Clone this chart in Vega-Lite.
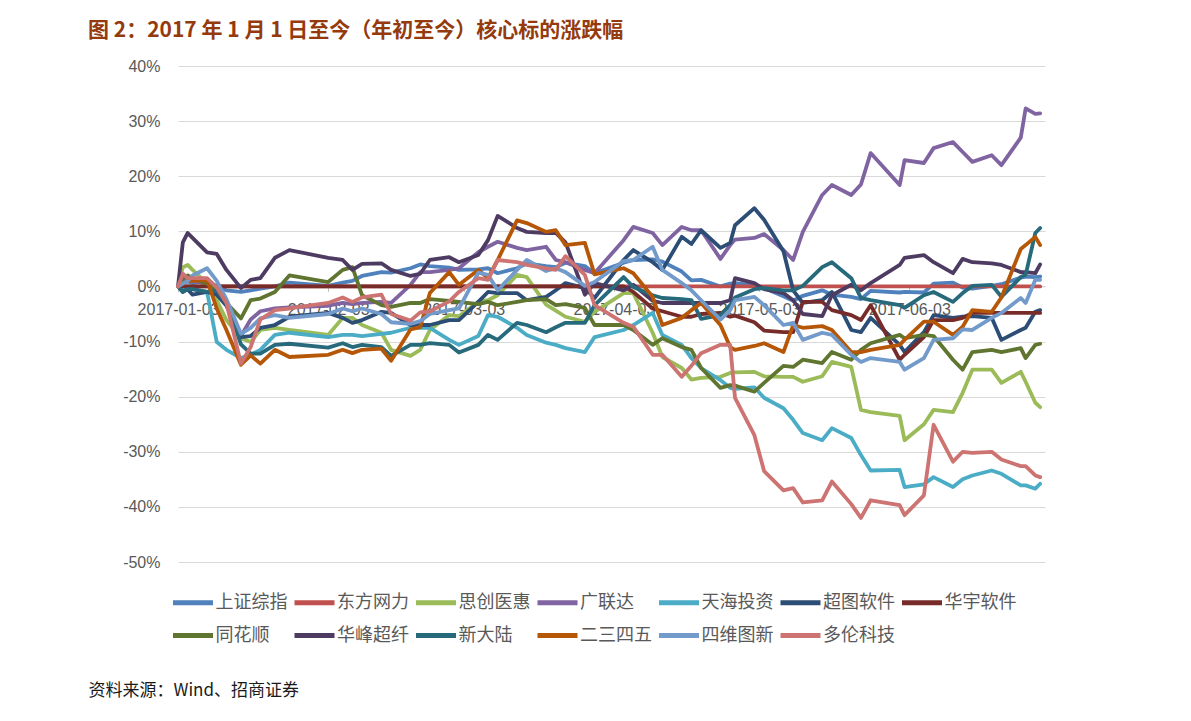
{
"$schema":"https://vega.github.io/schema/vega-lite/v6.json",
"width":867,"height":496,
"autosize":{"type":"none"},
"padding":{"left":178,"top":66,"right":146,"bottom":159},
"background":"white",
"title":{"text":"图 2：2017 年 1 月 1 日至今（年初至今）核心标的涨跌幅","anchor":"start","frame":"group","dx":-90,"offset":-4,"baseline":"bottom","font":"Noto Sans CJK SC","fontSize":21,"fontWeight":"bold","color":"#943A0C"},
"data":{"values":[
{"d":"2017/01/03","上证综指":0,"东方网力":0,"思创医惠":0,"广联达":0,"天海投资":0,"超图软件":0,"华宇软件":0,"同花顺":0,"华峰超纤":0,"新大陆":0,"二三四五":0,"四维图新":0,"多伦科技":0},
{"d":"2017/01/04","上证综指":0.7,"东方网力":0,"思创医惠":3.5,"广联达":1.0,"天海投资":-0.5,"超图软件":-1.0,"华宇软件":0,"同花顺":1.5,"华峰超纤":8.0,"新大陆":-1.0,"二三四五":0.5,"四维图新":0.5,"多伦科技":2.3},
{"d":"2017/01/05","上证综指":0.9,"东方网力":0,"思创医惠":3.9,"广联达":1.5,"天海投资":0,"超图软件":-0.5,"华宇软件":0,"同花顺":2.0,"华峰超纤":9.7,"新大陆":-0.5,"二三四五":1.0,"四维图新":1.0,"多伦科技":1.5},
{"d":"2017/01/06","上证综指":0.6,"东方网力":0,"思创医惠":3.0,"广联达":1.0,"天海投资":-0.5,"超图软件":-1.5,"华宇软件":0,"同花顺":1.5,"华峰超纤":8.8,"新大陆":-0.5,"二三四五":1.0,"四维图新":2.0,"多伦科技":1.5},
{"d":"2017/01/09","上证综指":1.1,"东方网力":0,"思创医惠":0.5,"广联达":0.5,"天海投资":-1.0,"超图软件":-1.0,"华宇软件":0,"同花顺":0.5,"华峰超纤":6.2,"新大陆":-1.0,"二三四五":1.2,"四维图新":3.3,"多伦科技":1.5},
{"d":"2017/01/11","上证综指":0.0,"东方网力":0,"思创医惠":-2.5,"广联达":-1.0,"天海投资":-10.1,"超图软件":-1.5,"华宇软件":0,"同花顺":-0.5,"华峰超纤":5.9,"新大陆":-0.7,"二三四五":-4.0,"四维图新":1.0,"多伦科技":-0.2},
{"d":"2017/01/13","上证综指":-0.7,"东方网力":0,"思创医惠":-6.1,"广联达":-3.0,"天海投资":-11.5,"超图软件":-3.5,"华宇软件":0,"同花顺":-3.0,"华峰超纤":3.0,"新大陆":-3.0,"二三四五":-7.9,"四维图新":-2.3,"多伦科技":-3.0},
{"d":"2017/01/16","上证综指":-1.0,"东方网力":0,"思创医惠":-9.4,"广联达":-9.0,"天海投资":-13.0,"超图软件":-9.2,"华宇软件":0,"同花顺":-5.8,"华峰超纤":-0.3,"新大陆":-10.5,"二三四五":-14.2,"四维图新":-8.6,"多伦科技":-14.0},
{"d":"2017/01/18","上证综指":-0.7,"东方网力":0,"思创医惠":-10.1,"广联达":-6.0,"天海投资":-12.4,"超图软件":-9.0,"华宇软件":0,"同花顺":-2.5,"华峰超纤":1.2,"新大陆":-12.2,"二三四五":-12.5,"四维图新":-7.5,"多伦科技":-11.0},
{"d":"2017/01/20","上证综指":-0.4,"东方网力":0,"思创医惠":-7.9,"广联达":-4.5,"天海投资":-11.5,"超图软件":-7.5,"华宇软件":0,"同花顺":-2.2,"华峰超纤":1.5,"新大陆":-12.2,"二三四五":-14.0,"四维图新":-5.8,"多伦科技":-6.0},
{"d":"2017/01/23","上证综指":0.0,"东方网力":0,"思创医惠":-7.5,"广联达":-4.0,"天海投资":-8.8,"超图软件":-7.0,"华宇软件":0,"同花顺":-1.0,"华峰超纤":5.2,"新大陆":-10.6,"二三四五":-11.5,"四维图新":-5.2,"多伦科技":-4.3},
{"d":"2017/01/26","上证综指":0.7,"东方网力":0,"思创医惠":-7.9,"广联达":-3.8,"天海投资":-8.4,"超图软件":-5.5,"华宇软件":0,"同花顺":2.0,"华峰超纤":6.6,"新大陆":-10.4,"二三四五":-12.8,"四维图新":-5.7,"多伦科技":-4.0},
{"d":"2017/02/03","上证综指":0.1,"东方网力":0,"思创医惠":-8.8,"广联达":-3.5,"天海投资":-9.2,"超图软件":-4.8,"华宇软件":0,"同花顺":0.8,"华峰超纤":5.2,"新大陆":-11.1,"二三四五":-12.4,"四维图新":-5.0,"多伦科技":-3.0},
{"d":"2017/02/06","上证综指":0.7,"东方网力":0,"思创医惠":-5.7,"广联达":-3.0,"天海投资":-8.8,"超图软件":-5.7,"华宇软件":0,"同花顺":3.0,"华峰超纤":4.8,"新大陆":-10.3,"二三四五":-11.5,"四维图新":-4.0,"多伦科技":-2.0},
{"d":"2017/02/08","上证综指":1.0,"东方网力":0,"思创医惠":-5.7,"广联达":-3.2,"天海投资":-8.8,"超图软件":-6.6,"华宇软件":0,"同花顺":3.5,"华峰超纤":3.0,"新大陆":-11.0,"二三四五":-12.1,"四维图新":-4.5,"多伦科技":-2.8},
{"d":"2017/02/10","上证综指":1.9,"东方网力":0,"思创医惠":-7.0,"广联达":-3.0,"天海投资":-9.0,"超图软件":-6.1,"华宇软件":0,"同花顺":-1.6,"华峰超纤":4.1,"新大陆":-10.6,"二三四五":-11.5,"四维图新":-4.0,"多伦科技":-2.0},
{"d":"2017/02/14","上证综指":2.6,"东方网力":0,"思创医惠":-8.4,"广联达":-2.8,"天海投资":-8.6,"超图软件":-4.6,"华宇软件":0,"同花顺":-3.4,"华峰超纤":4.2,"新大陆":-11.0,"二三四五":-11.3,"四维图新":-5.0,"多伦科技":-1.5},
{"d":"2017/02/16","上证综指":2.5,"东方网力":0,"思创医惠":-11.5,"广联达":-3.0,"天海投资":-8.4,"超图软件":-4.8,"华宇软件":0,"同花顺":-3.7,"华峰超纤":3.0,"新大陆":-12.6,"二三四五":-13.5,"四维图新":-6.5,"多伦科技":-5.0},
{"d":"2017/02/20","上证综指":3.3,"东方网力":0,"思创医惠":-12.6,"广联达":0.3,"天海投资":-7.5,"超图软件":-7.0,"华宇软件":0,"同花顺":-3.0,"华峰超纤":1.9,"新大陆":-10.6,"二三四五":-7.8,"四维图新":-6.8,"多伦科技":-6.2},
{"d":"2017/02/22","上证综指":4.0,"东方网力":0,"思创医惠":-11.5,"广联达":2.6,"天海投资":-7.5,"超图软件":-7.0,"华宇软件":0,"同花顺":-3.0,"华峰超纤":2.3,"新大陆":-10.6,"二三四五":-7.4,"四维图新":-6.3,"多伦科技":-4.7},
{"d":"2017/02/24","上证综指":3.7,"东方网力":0,"思创医惠":-7.9,"广联达":2.6,"天海投资":-7.5,"超图软件":-7.0,"华宇软件":0,"同花顺":-2.3,"华峰超纤":4.8,"新大陆":-10.3,"二三四五":-1.2,"四维图新":-5.0,"多伦科技":-4.5},
{"d":"2017/02/28","上证综指":3.4,"东方网力":0,"思创医惠":-5.2,"广联达":3.0,"天海投资":-9.7,"超图软件":-6.1,"华宇软件":0,"同花顺":-2.6,"华峰超纤":5.3,"新大陆":-10.6,"二三四五":2.6,"四维图新":-4.3,"多伦科技":-2.7},
{"d":"2017/03/02","上证综指":3.0,"东方网力":0,"思创医惠":-5.4,"广联达":3.3,"天海投资":-10.6,"超图软件":-6.1,"华宇软件":0,"同花顺":-2.8,"华峰超纤":4.4,"新大陆":-12.0,"二三四五":0.3,"四维图新":-4.0,"多伦科技":-1.0},
{"d":"2017/03/06","上证综指":3.1,"东方网力":0,"思创医惠":-2.8,"广联达":6.2,"天海投资":-9.0,"超图软件":-2.8,"华宇软件":0,"同花顺":-3.2,"华峰超纤":5.7,"新大陆":-10.6,"二三四五":3.0,"四维图新":2.5,"多伦科技":1.5},
{"d":"2017/03/08","上证综指":3.3,"东方网力":0,"思创医惠":-2.5,"广联达":7.2,"天海投资":-5.2,"超图软件":-1.0,"华宇软件":0,"同花顺":-2.8,"华峰超纤":8.4,"新大陆":-8.8,"二三四五":1.5,"四维图新":2.1,"多伦科技":1.2},
{"d":"2017/03/10","上证综指":2.4,"东方网力":0,"思创医惠":-1.6,"广联达":8.1,"天海投资":-5.5,"超图软件":-1.2,"华宇软件":0,"同花顺":-3.4,"华峰超纤":12.8,"新大陆":-9.7,"二三四五":4.8,"四维图新":-0.7,"多伦科技":4.8},
{"d":"2017/03/14","上证综指":3.3,"东方网力":0,"思创医惠":2.1,"广联达":7.0,"天海投资":-7.5,"超图软件":-1.2,"华宇软件":0,"同花顺":-2.8,"华峰超纤":10.6,"新大陆":-6.6,"二三四五":12.0,"四维图新":3.0,"多伦科技":4.4},
{"d":"2017/03/16","上证综指":4.2,"东方网力":0,"思创医惠":1.7,"广联达":6.6,"天海投资":-8.8,"超图软件":-2.5,"华宇软件":0,"同花顺":-2.5,"华峰超纤":9.9,"新大陆":-7.0,"二三四五":11.5,"四维图新":4.8,"多伦科技":3.9},
{"d":"2017/03/20","上证综指":3.7,"东方网力":0,"思创医惠":-3.3,"广联达":7.2,"天海投资":-10.2,"超图软件":-1.9,"华宇软件":0,"同花顺":-2.3,"华峰超纤":9.7,"新大陆":-8.3,"二三四五":9.9,"四维图新":2.8,"多伦科技":3.3},
{"d":"2017/03/22","上证综指":3.5,"东方网力":0,"思创医惠":-4.4,"广联达":4.8,"天海投资":-10.6,"超图软件":-0.7,"华宇软件":0,"同花顺":-3.4,"华峰超纤":9.7,"新大陆":-7.4,"二三四五":10.2,"四维图新":3.3,"多伦科技":3.0},
{"d":"2017/03/24","上证综指":4.3,"东方网力":0,"思创医惠":-5.5,"广联达":4.4,"天海投资":-11.2,"超图软件":0.6,"华宇软件":0,"同花顺":-3.2,"华峰超纤":8.0,"新大陆":-6.6,"二三四五":7.5,"四维图新":2.6,"多伦科技":5.5},
{"d":"2017/03/28","上证综指":3.7,"东方网力":0,"思创医惠":-6.4,"广联达":3.0,"天海投资":-11.9,"超图软件":-0.3,"华宇软件":0,"同花顺":-3.9,"华峰超纤":-1.5,"新大陆":-6.6,"二三四五":7.9,"四维图新":0.1,"多伦科技":2.1},
{"d":"2017/03/30","上证综指":2.4,"东方网力":0,"思创医惠":-4.6,"广联达":2.4,"天海投资":-9.2,"超图软件":-2.1,"华宇软件":0,"同花顺":-7.0,"华峰超纤":0.6,"新大陆":-3.4,"二三四五":2.2,"四维图新":0.8,"多伦科技":-3.4},
{"d":"2017/04/05","上证综指":4.3,"东方网力":0,"思创医惠":-1.2,"广联达":8.4,"天海投资":-7.9,"超图软件":4.8,"华宇软件":0,"同花顺":-7.0,"华峰超纤":-0.7,"新大陆":1.7,"二三四五":3.3,"四维图新":4.6,"多伦科技":-6.6},
{"d":"2017/04/07","上证综指":4.8,"东方网力":0,"思创医惠":-1.2,"广联达":10.8,"天海投资":-7.0,"超图软件":6.6,"华宇软件":-1.0,"同花顺":-7.9,"华峰超纤":0.3,"新大陆":-0.1,"二三四五":2.4,"四维图新":4.8,"多伦科技":-7.3},
{"d":"2017/04/11","上证综指":4.9,"东方网力":0,"思创医惠":-8.4,"广联达":9.7,"天海投资":-4.8,"超图软件":4.4,"华宇软件":-4.0,"同花顺":-10.6,"华峰超纤":-2.6,"新大陆":-1.6,"二三四五":-1.9,"四维图新":7.2,"多伦科技":-12.4},
{"d":"2017/04/13","上证综指":4.5,"东方网力":0,"思创医惠":-12.8,"广联达":7.5,"天海投资":-8.8,"超图软件":3.0,"华宇软件":-4.5,"同花顺":-9.4,"华峰超纤":-3.0,"新大陆":-2.1,"二三四五":-7.0,"四维图新":3.0,"多伦科技":-12.4},
{"d":"2017/04/17","上证综指":2.7,"东方网力":0,"思创医惠":-14.8,"广联达":10.8,"天海投资":-10.6,"超图软件":9.0,"华宇软件":-5.5,"同花顺":-11.0,"华峰超纤":-3.0,"新大陆":-2.3,"二三四五":-5.7,"四维图新":0.6,"多伦科技":-16.4},
{"d":"2017/04/19","上证综指":1.1,"东方网力":0,"思创医惠":-16.9,"广联达":10.2,"天海投资":-13.0,"超图软件":7.7,"华宇软件":-5.5,"同花顺":-11.5,"华峰超纤":-3.0,"新大陆":-2.5,"二三四五":-4.3,"四维图新":-0.7,"多伦科技":-14.4},
{"d":"2017/04/21","上证综指":1.2,"东方网力":0,"思创医惠":-16.6,"广联达":10.2,"天海投资":-14.8,"超图软件":10.2,"华宇软件":-5.0,"同花顺":-14.8,"华峰超纤":-3.0,"新大陆":-5.9,"二三四五":-3.0,"四维图新":-2.5,"多伦科技":-12.1},
{"d":"2017/04/25","上证综指":0.0,"东方网力":0,"思创医惠":-16.4,"广联达":5.0,"天海投资":-17.0,"超图软件":7.0,"华宇软件":-4.8,"同花顺":-18.4,"华峰超纤":-3.0,"新大陆":-5.2,"二三四五":-7.0,"四维图新":-6.0,"多伦科技":-10.6},
{"d":"2017/04/27","上证综指":0.5,"东方网力":0,"思创医惠":-15.7,"广联达":7.5,"天海投资":-18.4,"超图软件":7.9,"华宇软件":-5.5,"同花顺":-17.9,"华峰超纤":-2.5,"新大陆":-3.4,"二三四五":-11.0,"四维图新":-4.3,"多伦科技":-10.6},
{"d":"2017/04/28","上证综指":0.6,"东方网力":0,"思创医惠":-15.6,"广联达":8.5,"天海投资":-18.6,"超图软件":11.1,"华宇软件":-5.3,"同花顺":-18.0,"华峰超纤":1.5,"新大陆":-2.0,"二三四五":-11.5,"四维图新":-2.5,"多伦科技":-20.2},
{"d":"2017/05/02","上证综指":0.2,"东方网力":0,"思创医惠":-15.5,"广联达":8.8,"天海投资":-18.3,"超图软件":14.2,"华宇软件":-6.5,"同花顺":-19.1,"华峰超纤":0.6,"新大陆":-0.5,"二三四五":-10.8,"四维图新":-1.9,"多伦科技":-27.0},
{"d":"2017/05/04","上证综指":-0.3,"东方网力":0,"思创医惠":-16.3,"广联达":9.5,"天海投资":-20.2,"超图软件":12.1,"华宇软件":-8.0,"同花顺":-17.5,"华峰超纤":-0.5,"新大陆":-0.3,"二三四五":-10.3,"四维图新":-3.4,"多伦科技":-33.5},
{"d":"2017/05/08","上证综指":-1.8,"东方网力":0,"思创医惠":-16.4,"广联达":6.6,"天海投资":-22.1,"超图软件":6.4,"华宇软件":-8.3,"同花顺":-14.4,"华峰超纤":-1.2,"新大陆":-0.7,"二三四五":-11.9,"四维图新":-7.0,"多伦科技":-37.0},
{"d":"2017/05/10","上证综指":-2.6,"东方网力":0,"思创医惠":-16.4,"广联达":4.8,"天海投资":-24.2,"超图软件":-0.7,"华宇软件":-8.3,"同花顺":-14.6,"华峰超纤":-2.5,"新大陆":-0.7,"二三四五":-7.0,"四维图新":-6.6,"多伦科技":-36.6},
{"d":"2017/05/12","上证综指":-1.7,"东方网力":0,"思创医惠":-17.3,"广联达":9.9,"天海投资":-26.6,"超图软件":-3.0,"华宇软件":-2.8,"同花顺":-13.3,"华峰超纤":-5.0,"新大陆":0.1,"二三四五":-7.5,"四维图新":-9.7,"多伦科技":-39.2},
{"d":"2017/05/16","上证综指":-0.7,"东方网力":0,"思创医惠":-16.3,"广联达":16.6,"天海投资":-27.9,"超图软件":-2.5,"华宇软件":-2.8,"同花顺":-13.9,"华峰超纤":-5.4,"新大陆":3.5,"二三四五":-7.2,"四维图新":-8.4,"多伦科技":-38.8},
{"d":"2017/05/18","上证综指":-1.5,"东方网力":0,"思创医惠":-13.7,"广联达":18.4,"天海投资":-25.7,"超图软件":-1.0,"华宇软件":-4.3,"同花顺":-11.9,"华峰超纤":-1.6,"新大陆":4.4,"二三四五":-7.9,"四维图新":-8.8,"多伦科技":-35.4},
{"d":"2017/05/22","上证综指":-1.9,"东方网力":0,"思创医惠":-14.6,"广联达":16.6,"天海投资":-27.5,"超图软件":-7.9,"华宇软件":-5.2,"同花顺":-13.3,"华峰超纤":0.3,"新大陆":1.5,"二三四五":-11.9,"四维图新":-12.4,"多伦科技":-39.5},
{"d":"2017/05/24","上证综指":-2.3,"东方网力":0,"思创医惠":-22.4,"广联达":18.5,"天海投资":-30.6,"超图软件":-8.3,"华宇软件":-6.1,"同花顺":-11.5,"华峰超纤":-0.7,"新大陆":-2.1,"二三四五":-11.9,"四维图新":-13.7,"多伦科技":-42.0},
{"d":"2017/05/26","上证综指":-0.8,"东方网力":0,"思创医惠":-22.8,"广联达":24.2,"天海投资":-33.4,"超图软件":-5.7,"华宇软件":-3.4,"同花顺":-10.3,"华峰超纤":0.6,"新大陆":-2.5,"二三四五":-11.5,"四维图新":-13.0,"多伦科技":-38.8},
{"d":"2017/06/01","上证综指":-1.1,"东方网力":0,"思创医惠":-23.5,"广联达":18.4,"天海投资":-33.3,"超图软件":-10.6,"华宇软件":-13.3,"同花顺":-8.8,"华峰超纤":3.9,"新大陆":-3.4,"二三四五":-10.6,"四维图新":-13.7,"多伦科技":-39.7},
{"d":"2017/06/02","上证综指":-1.0,"东方网力":0,"思创医惠":-27.9,"广联达":22.9,"天海投资":-36.4,"超图软件":-11.9,"华宇软件":-12.4,"同花顺":-9.4,"华峰超纤":5.2,"新大陆":-3.9,"二三四五":-9.7,"四维图新":-15.1,"多伦科技":-41.5},
{"d":"2017/06/06","上证综指":-1.1,"东方网力":0,"思创医惠":-25.0,"广联达":22.4,"天海投资":-35.9,"超图软件":-8.3,"华宇软件":-9.2,"同花顺":-8.8,"华峰超纤":5.7,"新大陆":-1.6,"二三四五":-6.4,"四维图新":-13.0,"多伦科技":-37.9},
{"d":"2017/06/08","上证综指":0.5,"东方网力":0,"思创医惠":-22.4,"广联达":25.1,"天海投资":-34.6,"超图软件":-5.2,"华宇软件":-6.1,"同花顺":-9.0,"华峰超纤":4.4,"新大陆":-1.0,"二三四五":-6.4,"四维图新":-9.7,"多伦科技":-25.1},
{"d":"2017/06/12","上证综指":0.7,"东方网力":0,"思创医惠":-22.8,"广联达":26.2,"天海投资":-36.4,"超图软件":-5.7,"华宇软件":-6.1,"同花顺":-13.3,"华峰超纤":2.4,"新大陆":-2.8,"二三四五":-8.8,"四维图新":-9.4,"多伦科技":-31.8},
{"d":"2017/06/14","上证综指":-0.2,"东方网力":0,"思创医惠":-19.3,"广联达":24.4,"天海投资":-35.0,"超图软件":-5.5,"华宇软件":-5.7,"同花顺":-15.1,"华峰超纤":5.0,"新大陆":-1.2,"二三四五":-7.3,"四维图新":-7.8,"多伦科技":-30.0},
{"d":"2017/06/16","上证综指":-0.4,"东方网力":0,"思创医惠":-15.1,"广联达":22.6,"天海投资":-34.3,"超图软件":-5.4,"华宇软件":-4.8,"同花顺":-11.9,"华峰超纤":4.4,"新大陆":0.1,"二三四五":-4.3,"四维图新":-7.9,"多伦科技":-30.2},
{"d":"2017/06/20","上证综指":0.1,"东方网力":0,"思创医惠":-15.1,"广联达":23.8,"天海投资":-33.4,"超图软件":-5.7,"华宇软件":-4.8,"同花顺":-11.5,"华峰超纤":4.2,"新大陆":0.3,"二三四五":-4.6,"四维图新":-5.7,"多伦科技":-30.0},
{"d":"2017/06/22","上证综指":0.4,"东方网力":0,"思创医惠":-17.5,"广联达":22.0,"天海投资":-34.0,"超图软件":-9.7,"华宇软件":-4.8,"同花顺":-11.9,"华峰超纤":3.9,"新大陆":-1.9,"二三四五":-2.0,"四维图新":-4.8,"多伦科技":-31.4},
{"d":"2017/06/26","上证综指":1.6,"东方网力":0,"思创医惠":-15.5,"广联达":27.0,"天海投资":-36.1,"超图软件":-7.9,"华宇软件":-4.8,"同花顺":-11.2,"华峰超纤":2.6,"新大陆":1.7,"二三四五":6.8,"四维图新":-2.1,"多伦科技":-32.6},
{"d":"2017/06/27","上证综指":1.8,"东方网力":0,"思创医惠":-17.3,"广联达":32.3,"天海投资":-36.1,"超图软件":-7.5,"华宇软件":-4.8,"同花顺":-13.0,"华峰超纤":2.6,"新大陆":2.1,"二三四五":7.5,"四维图新":-3.0,"多伦科技":-32.6},
{"d":"2017/06/29","上证综指":1.7,"东方网力":0,"思创医惠":-21.1,"广联达":31.3,"天海投资":-36.7,"超图软件":-4.6,"华宇软件":-4.8,"同花顺":-10.6,"华峰超纤":2.4,"新大陆":9.7,"二三四五":9.0,"四维图新":1.2,"多伦科技":-34.3},
{"d":"2017/06/30","上证综指":1.8,"东方网力":0,"思创医惠":-21.9,"广联达":31.4,"天海投资":-35.8,"超图软件":-4.3,"华宇软件":-4.8,"同花顺":-10.4,"华峰超纤":4.0,"新大陆":10.6,"二三四五":7.5,"四维图新":1.2,"多伦科技":-34.6}
]},
"transform":[{"fold":["上证综指","东方网力","思创医惠","广联达","天海投资","超图软件","华宇软件","同花顺","华峰超纤","新大陆","二三四五","四维图新","多伦科技"],"as":["series","value"]}],
"mark":{"type":"line","strokeWidth":3.8,"strokeJoin":"round","strokeCap":"round"},
"encoding":{
"x":{"field":"d","type":"temporal",
"scale":{"domain":[{"year":2017,"month":1,"date":3},{"year":2017,"month":7,"date":1}]},
"axis":{"values":[{"year":2017,"month":1,"date":3},{"year":2017,"month":2,"date":3},{"year":2017,"month":3,"date":3},{"year":2017,"month":4,"date":3},{"year":2017,"month":5,"date":3},{"year":2017,"month":6,"date":3}],
"format":"%Y-%m-%d","formatType":"time","offset":-275.6,"grid":false,"domainColor":"#D9D9D9","tickColor":"#BFBFBF","tickSize":5,"labelPadding":10,"labelFlush":false,"labelOverlap":false,"labelFontSize":16,"labelFont":"Liberation Sans","labelColor":"#595959",
"title":"资料来源：Wind、招商证券","titleX":-90,"titleY":404,"titleAlign":"left","titleAnchor":null,"titleBaseline":"middle","titleFont":"Noto Sans CJK SC","titleFontSize":17,"titleFontWeight":"normal","titleColor":"#1A1A1A"}},
"y":{"field":"value","type":"quantitative","scale":{"domain":[-50,40],"nice":false,"zero":false},
"axis":{"values":[-50,-40,-30,-20,-10,0,10,20,30,40],"labelExpr":"datum.value + '%'","domain":false,"ticks":false,"grid":true,"gridColor":"#D9D9D9","gridWidth":1,"labelFontSize":16,"labelFont":"Liberation Sans","labelColor":"#595959","labelPadding":18,"title":null}},
"color":{"field":"series","type":"nominal",
"scale":{"domain":["上证综指","东方网力","思创医惠","广联达","天海投资","超图软件","华宇软件","同花顺","华峰超纤","新大陆","二三四五","四维图新","多伦科技"],
"range":["#4F81BD","#C0504D","#9BBB59","#8064A2","#4BACC6","#2C4D75","#772C2A","#5F7530","#4D3B62","#276A7C","#B65708","#729ACA","#CD7371"]},
"legend":{"orient":"none","legendX":-7.5,"legendY":514,"direction":"horizontal","columns":7,"title":null,"symbolType":"stroke","symbolSize":1600,"symbolStrokeWidth":5,"labelFontSize":18,"labelFont":"Noto Sans CJK SC","labelColor":"#595959","labelOffset":0,"columnPadding":-3.5,"rowPadding":0,"labelLimit":200}}
},
"config":{"view":{"stroke":null}}
}
